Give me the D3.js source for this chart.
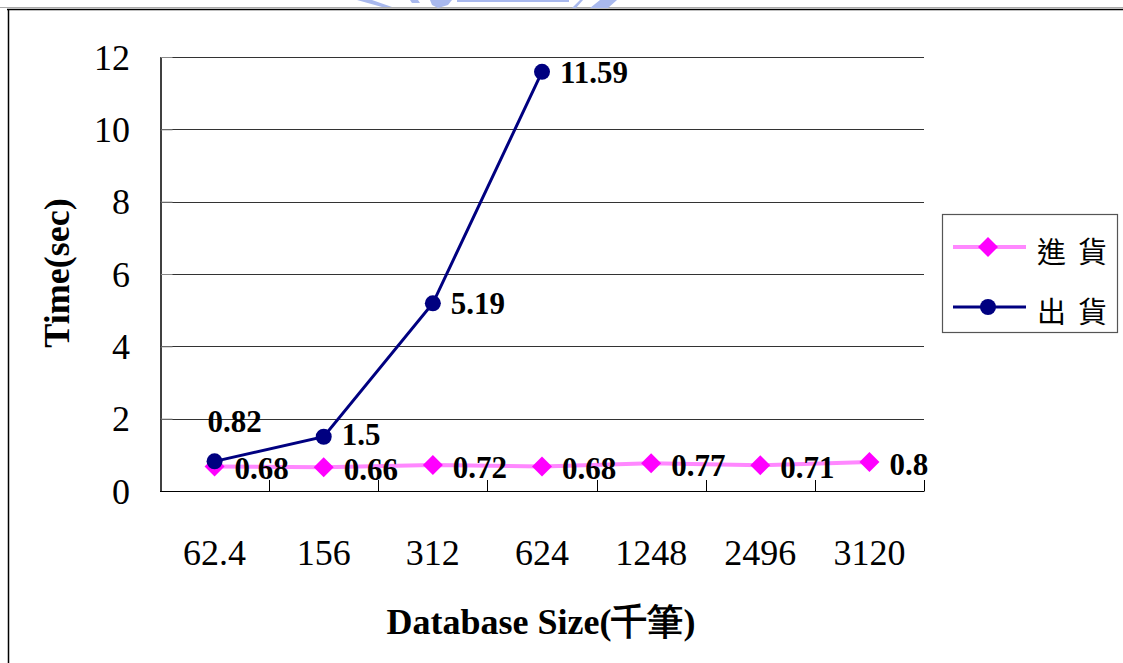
<!DOCTYPE html>
<html>
<head>
<meta charset="utf-8">
<script src="https://cdn.jsdelivr.net/npm/d3@7"></script>
<style>
  html, body { margin: 0; padding: 0; background: #fff; }
  svg { display: block; }
</style>
</head>
<body>
<svg id="chart" width="1123" height="663"></svg>
<script>
// Database sizes (thousand records) on the x axis
const categories = ["62.4", "156", "312", "624", "1248", "2496", "3120"];
// Inbound (進貨) processing time, seconds
const inbound = [0.68, 0.66, 0.72, 0.68, 0.77, 0.71, 0.8];
// Outbound (出貨) processing time, seconds (only measured up to 624)
const outbound = [0.82, 1.5, 5.19, 11.59];
const yTicks = [0, 2, 4, 6, 8, 10, 12];
const seriesNames = ["進貨", "出貨"];

const svg = d3.select("#chart");
const serif = "'Liberation Serif', 'Times New Roman', serif";
const cjk = "'Noto Sans CJK TC', 'Noto Sans CJK SC', sans-serif";

// page frame and the clipped emblem at the top edge
svg.append("line").attr("x1", 0).attr("x2", 1123).attr("y1", 7.5).attr("y2", 7.5)
  .attr("stroke", "#aaa").attr("stroke-width", 1);
svg.append("line").attr("x1", 7).attr("x2", 1123).attr("y1", 9.5).attr("y2", 9.5)
  .attr("stroke", "#000").attr("stroke-width", 1.5);
svg.append("line").attr("x1", 8.5).attr("x2", 8.5).attr("y1", 9).attr("y2", 663)
  .attr("stroke", "#000").attr("stroke-width", 1.5);
const emblem = svg.append("g").attr("fill", "#a9b9ee");
emblem.append("path").attr("d", "M357,0 L372,0 L392,7 L382,7 Z");
emblem.append("path").attr("d", "M410,0 L418,0 L420,3 L412,3 Z");
emblem.append("path").attr("d", "M430,0 L452,0 L448,5 L438,8 L432,5 Z");
emblem.append("rect").attr("x", 457).attr("y", 0).attr("width", 112).attr("height", 2);
emblem.append("path").attr("d", "M572,8 L580,0 L583,0 L576,8 Z");
emblem.append("path").attr("d", "M590,8 L600,0 L617,0 L608,8 Z");

// scales
const x = d3.scaleBand().domain(categories).range([160, 924]);
const y = d3.scaleLinear().domain([0, 12]).range([491, 57]);
const cx = c => x(c) + x.bandwidth() / 2;

// horizontal gridlines
svg.append("g").selectAll("line").data(yTicks.filter(t => t > 0)).join("line")
  .attr("x1", 160).attr("x2", 924)
  .attr("y1", d => Math.round(y(d)) + 0.5).attr("y2", d => Math.round(y(d)) + 0.5)
  .attr("stroke", "#333").attr("stroke-width", 1);

// y axis with inward ticks
const yAxis = svg.append("g").attr("transform", "translate(160.5,0)")
  .call(d3.axisRight(y).tickValues(yTicks).tickSize(12).tickSizeOuter(0).tickFormat(""));
yAxis.select(".domain").attr("stroke", "#000").attr("stroke-width", 1.5);
yAxis.selectAll(".tick line").attr("stroke", "#888");
svg.append("g").selectAll("text").data(yTicks).join("text")
  .attr("x", 130).attr("y", d => y(d)).attr("dy", "0.35em")
  .attr("text-anchor", "end")
  .attr("font-family", serif).attr("font-size", 36).attr("fill", "#000")
  .text(d => d);

// x axis with inward ticks at band boundaries
const xLine = svg.append("g");
xLine.append("line").attr("x1", 160).attr("x2", 924.5).attr("y1", 491.5).attr("y2", 491.5)
  .attr("stroke", "#000").attr("stroke-width", 1.2);
xLine.selectAll(".xt").data(categories).join("line").attr("class", "xt")
  .attr("x1", d => Math.round(x(d) + x.bandwidth()) + 0.5)
  .attr("x2", d => Math.round(x(d) + x.bandwidth()) + 0.5)
  .attr("y1", 480).attr("y2", 491)
  .attr("stroke", "#000").attr("stroke-width", 1);
svg.append("g").selectAll("text").data(categories).join("text")
  .attr("x", d => cx(d)).attr("y", 552).attr("dy", "0.35em")
  .attr("text-anchor", "middle")
  .attr("font-family", serif).attr("font-size", 36).attr("fill", "#000")
  .text(d => d);

// axis titles
svg.append("text")
  .attr("transform", "translate(69,273) rotate(-90)")
  .attr("text-anchor", "middle")
  .attr("font-family", serif).attr("font-weight", "bold").attr("font-size", 36)
  .text("Time(sec)");
svg.append("text")
  .attr("x", 541).attr("y", 634).attr("text-anchor", "middle")
  .attr("font-family", serif).attr("font-weight", "bold").attr("font-size", 36)
  .text("Database Size(千筆)");

const inPts = inbound.map((v, i) => ({ c: categories[i], v }));
const outPts = outbound.map((v, i) => ({ c: categories[i], v }));
const line = d3.line().x(d => cx(d.c)).y(d => y(d.v));

// inbound series: pale pink line, magenta diamonds
svg.append("path").datum(inPts).attr("d", line)
  .attr("fill", "none").attr("stroke", "#ff88ff").attr("stroke-width", 4);
const diamond = d3.symbol().type(d3.symbolSquare).size(200);
svg.append("g").selectAll("path").data(inPts).join("path")
  .attr("d", diamond)
  .attr("transform", d => `translate(${cx(d.c)},${y(d.v)}) rotate(45)`)
  .attr("fill", "#ff00ff");

// outbound series: navy line with circles
svg.append("path").datum(outPts).attr("d", line)
  .attr("fill", "none").attr("stroke", "#000080").attr("stroke-width", 3);
svg.append("g").selectAll("circle").data(outPts).join("circle")
  .attr("cx", d => cx(d.c)).attr("cy", d => y(d.v)).attr("r", 8)
  .attr("fill", "#000080");

// value labels
const lbl = (g, data, place) => g.selectAll("text").data(data).join("text")
  .attr("x", (d, i) => place(d, i)[0]).attr("y", (d, i) => place(d, i)[1])
  .attr("font-family", serif).attr("font-weight", "bold").attr("font-size", 31)
  .attr("fill", "#000").text(d => d.v);
lbl(svg.append("g"), inPts, d => [cx(d.c) + 20, y(d.v) + 13]);
lbl(svg.append("g"), outPts, (d, i) => i === 0
  ? [cx(d.c) - 7, y(d.v) - 29]
  : [cx(d.c) + 18, y(d.v) + (i === 1 ? 8 : 11)]);

// legend
const lg = svg.append("g");
lg.append("rect").attr("x", 942.5).attr("y", 214.5).attr("width", 175).attr("height", 118)
  .attr("fill", "#fff").attr("stroke", "#555").attr("stroke-width", 1.2);
const rows = [
  { name: seriesNames[0], color: "#ff88ff", mark: "#ff00ff", w: 4, shape: "diamond", yy: 247 },
  { name: seriesNames[1], color: "#000080", mark: "#000080", w: 3, shape: "circle", yy: 307 }
];
rows.forEach(r => {
  lg.append("line").attr("x1", 953).attr("x2", 1026).attr("y1", r.yy).attr("y2", r.yy)
    .attr("stroke", r.color).attr("stroke-width", r.w);
  if (r.shape === "diamond") {
    lg.append("path").attr("d", diamond)
      .attr("transform", `translate(988,${r.yy}) rotate(45)`).attr("fill", r.mark);
  } else {
    lg.append("circle").attr("cx", 988).attr("cy", r.yy).attr("r", 8).attr("fill", r.mark);
  }
  lg.append("text").attr("x", 1037).attr("y", r.yy + 6).attr("dy", "0.35em")
    .attr("font-family", cjk).attr("font-size", 29).attr("letter-spacing", 12)
    .attr("fill", "#000").text(r.name);
});
</script>
</body>
</html>
